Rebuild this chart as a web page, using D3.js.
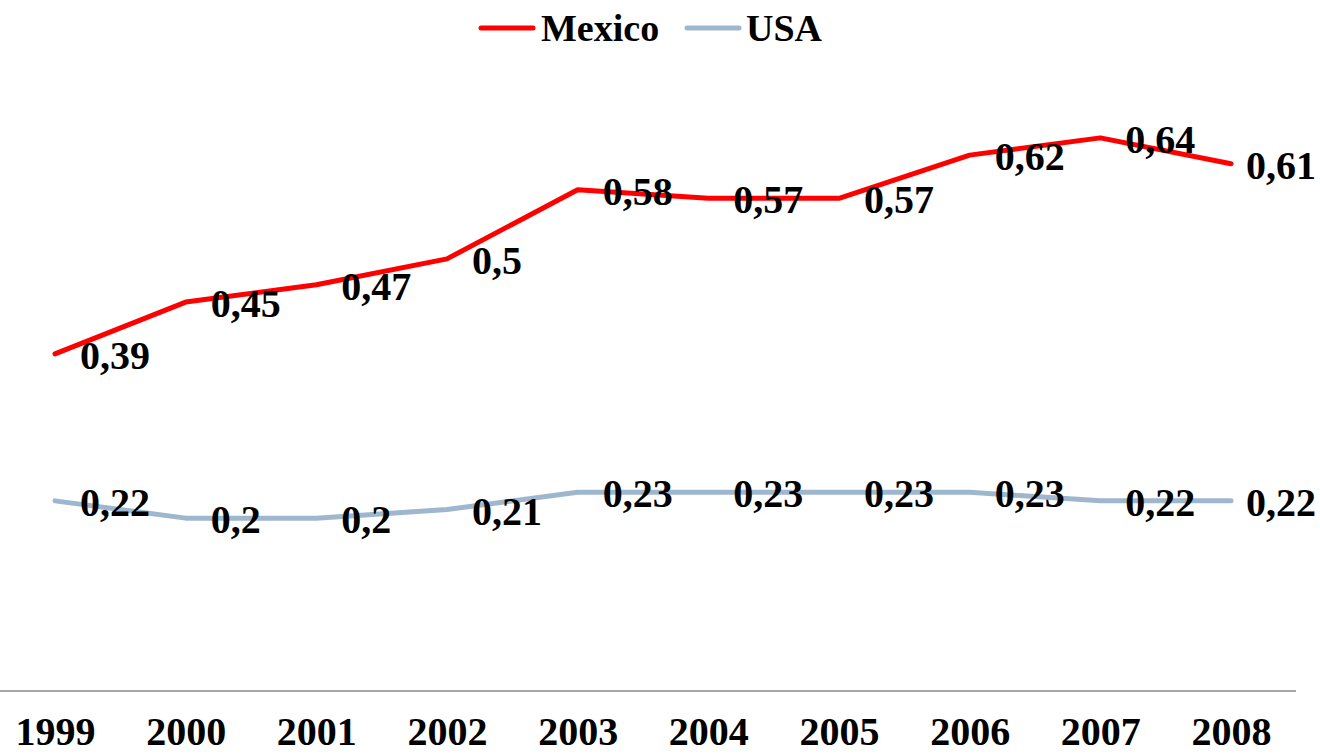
<!DOCTYPE html>
<html>
<head>
<meta charset="utf-8">
<script src="https://cdn.jsdelivr.net/npm/d3@7/dist/d3.min.js"></script>
<style>
  html, body { margin: 0; padding: 0; background: #ffffff; }
  svg { display: block; }
  text { font-family: "Liberation Serif", "DejaVu Serif", serif; font-weight: bold; fill: #000; }
</style>
</head>
<body>
<svg id="chart" width="1320" height="755"></svg>
<script>
const years = ["1999", "2000", "2001", "2002", "2003", "2004", "2005", "2006", "2007", "2008"];
const mexico = [0.39, 0.45, 0.47, 0.5, 0.58, 0.57, 0.57, 0.62, 0.64, 0.61];
const usa = [0.22, 0.2, 0.2, 0.21, 0.23, 0.23, 0.23, 0.23, 0.22, 0.22];
const seriesNames = ["Mexico", "USA"];
const seriesColors = ["#ff0000", "#9fb7ce"];

const svg = d3.select("#chart");
const W = 1320;
const labelSize = 40;
const legendSize = 38;

const x = d3.scalePoint().domain(years).range([55, 1231]);
const y = d3.scaleLinear().domain([0, 0.7]).range([691, 86]);

// baseline of the category axis
svg.append("line")
  .attr("x1", 0).attr("x2", 1296)
  .attr("y1", y(0)).attr("y2", y(0))
  .attr("stroke", "#a6a6a6").attr("stroke-width", 2);

// category labels
const xAxis = d3.axisBottom(x).tickSize(0).tickPadding(0);
const gx = svg.append("g").attr("transform", `translate(0, ${y(0)})`).call(xAxis);
gx.select(".domain").remove();
gx.selectAll("text")
  .attr("y", 54).attr("dy", null)
  .style("font-family", '"Liberation Serif", "DejaVu Serif", serif')
  .style("font-weight", "bold")
  .style("font-size", labelSize + "px")
  .attr("fill", "#000");

const fmt = v => String(v).replace(".", ",");
const line = d3.line().x((d, i) => x(years[i])).y(d => y(d));

[mexico, usa].forEach((vals, k) => {
  svg.append("path")
    .datum(vals)
    .attr("d", line)
    .attr("fill", "none")
    .attr("stroke", seriesColors[k])
    .attr("stroke-width", 5)
    .attr("stroke-linejoin", "round")
    .attr("stroke-linecap", "round");
});

// value labels to the right of each point, kept inside the chart width
[mexico, usa].forEach(vals => {
  svg.append("g").selectAll("text")
    .data(vals)
    .join("text")
    .attr("y", d => y(d) + 15)
    .style("font-size", labelSize + "px")
    .text(d => fmt(d))
    .attr("x", function (d, i) {
      const w = this.getComputedTextLength();
      return Math.min(x(years[i]) + 25, W - 4 - w);
    });
});

// legend
const legendItems = [{ x0: 481, tx: 541 }, { x0: 687, tx: 746 }];
legendItems.forEach((it, k) => {
  svg.append("line")
    .attr("x1", it.x0).attr("x2", it.x0 + 52)
    .attr("y1", 28).attr("y2", 28)
    .attr("stroke", seriesColors[k]).attr("stroke-width", 5)
    .attr("stroke-linecap", "round");
  svg.append("text")
    .attr("x", it.tx).attr("y", 41)
    .style("font-size", legendSize + "px")
    .text(seriesNames[k]);
});
</script>
</body>
</html>
